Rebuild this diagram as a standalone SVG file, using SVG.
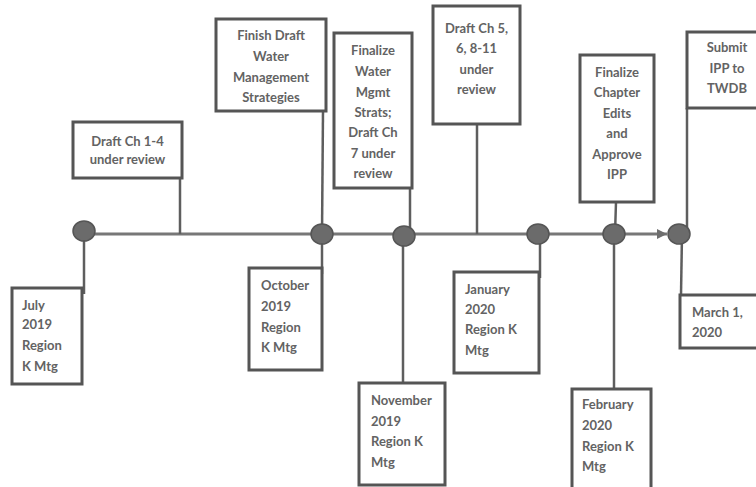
<svg xmlns="http://www.w3.org/2000/svg" width="756" height="487" viewBox="0 0 756 487">
<style>
.box{fill:#fff;stroke:#555;stroke-width:3}
.t{font-family:Lato,"Liberation Sans",sans-serif;font-weight:700;font-size:13px;fill:#636363}
.c{text-anchor:middle}
.conn{stroke:#5e5e5e;stroke-width:2.5;fill:none}
.main{stroke:#777;stroke-width:3;fill:none}
.dot{fill:#6b6b6b;stroke:#555;stroke-width:1.5}
</style>
<defs>
<marker id="arr" markerWidth="12" markerHeight="12" refX="10" refY="5" orient="auto" markerUnits="userSpaceOnUse">
<path d="M0,0 L10,5 L0,10 Z" fill="#6e6e6e"/>
</marker>
</defs>
<rect width="756" height="487" fill="#fff"/>
<g id="connectors">
<line class="main" x1="84" y1="234" x2="667" y2="234" marker-end="url(#arr)"/>
<line class="conn" x1="180" y1="178" x2="180" y2="234"/>
<line class="conn" x1="84" y1="234" x2="84" y2="294"/>
<line class="conn" x1="323" y1="111" x2="322" y2="234"/>
<line class="conn" x1="322" y1="234" x2="322" y2="274"/>
<line class="conn" x1="410" y1="188" x2="410" y2="236"/>
<line class="conn" x1="403" y1="236" x2="403" y2="383"/>
<line class="conn" x1="477" y1="124" x2="477" y2="234"/>
<line class="conn" x1="540" y1="234" x2="540" y2="278"/>
<line class="conn" x1="616" y1="202" x2="615" y2="234"/>
<line class="conn" x1="614" y1="234" x2="614" y2="389"/>
<line class="conn" x1="687" y1="108" x2="687" y2="234"/>
<line class="conn" x1="682" y1="234" x2="681" y2="295"/>
</g>
<g id="dots">
<ellipse class="dot" cx="84" cy="231" rx="11" ry="10"/>
<ellipse class="dot" cx="322" cy="234" rx="11" ry="10"/>
<ellipse class="dot" cx="404" cy="236" rx="11" ry="10"/>
<ellipse class="dot" cx="538" cy="234" rx="11" ry="10"/>
<ellipse class="dot" cx="614" cy="234" rx="11" ry="10"/>
<ellipse class="dot" cx="679" cy="234" rx="11" ry="10"/>
</g>
<g id="n-draft14">
<rect class="box" x="73" y="122" width="109" height="56"/>
<text class="t c" x="127.5" y="146">Draft Ch 1-4</text>
<text class="t c" x="127.5" y="164">under review</text>
</g>
<g id="n-finish">
<rect class="box" x="216" y="19" width="110" height="92"/>
<text class="t c" x="271" y="40">Finish Draft</text>
<text class="t c" x="271" y="61">Water</text>
<text class="t c" x="271" y="82">Management</text>
<text class="t c" x="271" y="102">Strategies</text>
</g>
<g id="n-finalize">
<rect class="box" x="334" y="33" width="78" height="155"/>
<text class="t c" x="373" y="55">Finalize</text>
<text class="t c" x="373" y="76">Water</text>
<text class="t c" x="373" y="97">Mgmt</text>
<text class="t c" x="373" y="117">Strats;</text>
<text class="t c" x="373" y="137">Draft Ch</text>
<text class="t c" x="373" y="158">7 under</text>
<text class="t c" x="373" y="178">review</text>
</g>
<g id="n-draft5">
<rect class="box" x="433" y="6" width="87" height="118"/>
<text class="t c" x="476.5" y="33">Draft Ch 5,</text>
<text class="t c" x="476.5" y="53">6, 8-11</text>
<text class="t c" x="476.5" y="74">under</text>
<text class="t c" x="476.5" y="94">review</text>
</g>
<g id="n-approve">
<rect class="box" x="580" y="55" width="74" height="147"/>
<text class="t c" x="617" y="77">Finalize</text>
<text class="t c" x="617" y="97">Chapter</text>
<text class="t c" x="617" y="118">Edits</text>
<text class="t c" x="617" y="138">and</text>
<text class="t c" x="617" y="159">Approve</text>
<text class="t c" x="617" y="179">IPP</text>
</g>
<g id="n-submit">
<rect class="box" x="687" y="32" width="82" height="76"/>
<text class="t c" x="727" y="52">Submit</text>
<text class="t c" x="727" y="73">IPP to</text>
<text class="t c" x="727" y="93">TWDB</text>
</g>
<g id="n-july">
<rect class="box" x="12" y="288" width="70" height="96"/>
<text class="t" x="22" y="310">July</text>
<text class="t" x="22" y="329">2019</text>
<text class="t" x="22" y="350">Region</text>
<text class="t" x="22" y="371">K Mtg</text>
</g>
<g id="n-oct">
<rect class="box" x="249" y="268" width="73" height="102"/>
<text class="t" x="261" y="290">October</text>
<text class="t" x="261" y="311">2019</text>
<text class="t" x="261" y="332">Region</text>
<text class="t" x="261" y="352">K Mtg</text>
</g>
<g id="n-nov">
<rect class="box" x="359" y="383" width="86" height="102"/>
<text class="t" x="371" y="405">November</text>
<text class="t" x="371" y="426">2019</text>
<text class="t" x="371" y="446">Region K</text>
<text class="t" x="371" y="467">Mtg</text>
</g>
<g id="n-jan">
<rect class="box" x="454" y="272" width="85" height="101"/>
<text class="t" x="465" y="294">January</text>
<text class="t" x="465" y="314">2020</text>
<text class="t" x="465" y="334">Region K</text>
<text class="t" x="465" y="355">Mtg</text>
</g>
<g id="n-feb">
<rect class="box" x="572" y="389" width="79" height="102"/>
<text class="t" x="582" y="409">February</text>
<text class="t" x="582" y="430">2020</text>
<text class="t" x="582" y="451">Region K</text>
<text class="t" x="582" y="471">Mtg</text>
</g>
<g id="n-mar">
<rect class="box" x="680" y="295" width="82" height="53"/>
<text class="t" x="692" y="317">March 1,</text>
<text class="t" x="692" y="337">2020</text>
</g>
</svg>
